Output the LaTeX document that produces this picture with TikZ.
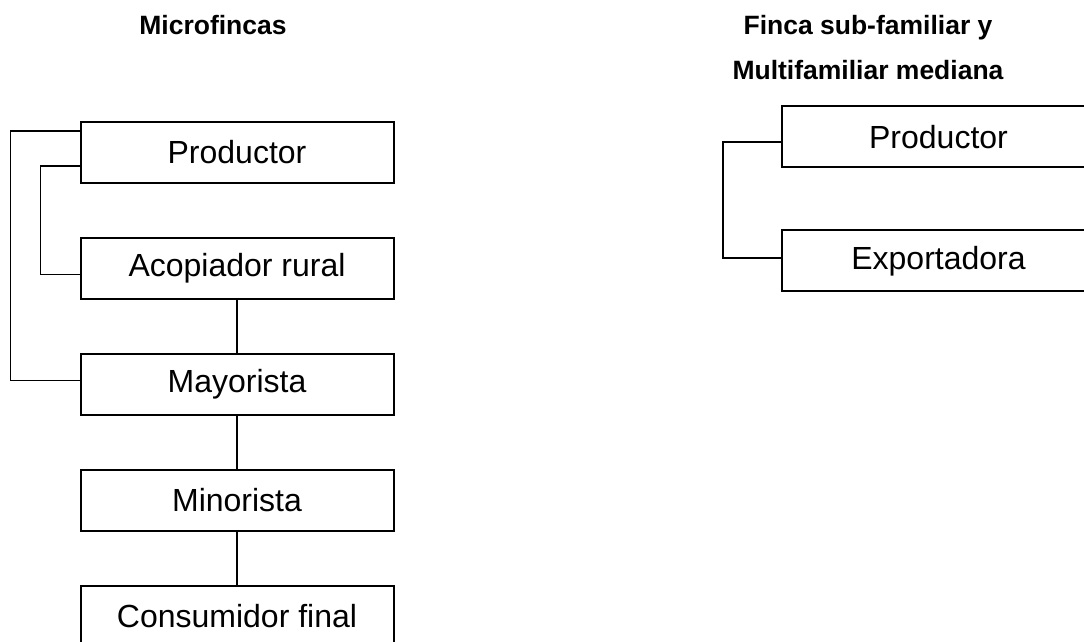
\documentclass[tikz,border=0pt]{standalone}
\usepackage{fontspec}
\setmainfont{Liberation Sans}
\usetikzlibrary{positioning}

\begin{document}
\begin{tikzpicture}[x=0.5pt,y=-0.5pt,
  box/.style={draw,line width=1pt,minimum width=156.5pt,minimum height=30.5pt,
    inner sep=0pt,outer sep=0pt,font=\fontsize{16}{19}\selectfont},
  title/.style={font=\fontsize{13.25}{22.5}\selectfont\bfseries,inner sep=0pt,align=center},
  link/.style={line width=0.8pt},
  node distance=27.5pt]
\useasboundingbox (0,0) rectangle (1084,642);
\clip (0,0) rectangle (1084,642);
% titulos
\node[title,anchor=base] (t1) at (213,35) {Microfincas};
\node[title] (t2) at (868,48) {Finca sub-familiar y\\Multifamiliar mediana};
% microfincas
\node[box] (prod) at (237,152.5) {Productor};
\node[box,below=of prod] (acop) {Acopiador rural};
\node[box,below=of acop] (may) {Mayorista};
\node[box,below=of may] (mino) {Minorista};
\node[box,below=of mino] (cons) {Consumidor final};
\draw[link] (acop.south) -- (may.north);
\draw[link] (may.south) -- (mino.north);
\draw[link] (mino.south) -- (cons.north);
\draw[link] ([yshift=-4.5pt]prod.north west) -- ++(-35pt,0) |- ([yshift=2pt]may.west);
\draw[link] ([yshift=8.5pt]prod.south west) -- ++(-20pt,0) |- ([yshift=-3pt]acop.west);
% finca sub-familiar
\node[box] (prodB) at (938.5,137) {Productor};
\node[box,below=31.5pt of prodB] (expo) {Exportadora};
\draw[link] ([yshift=-2.5pt]prodB.west) -- ++(-29.5pt,0) |- ([yshift=1.5pt]expo.west);
\end{tikzpicture}
\end{document}
